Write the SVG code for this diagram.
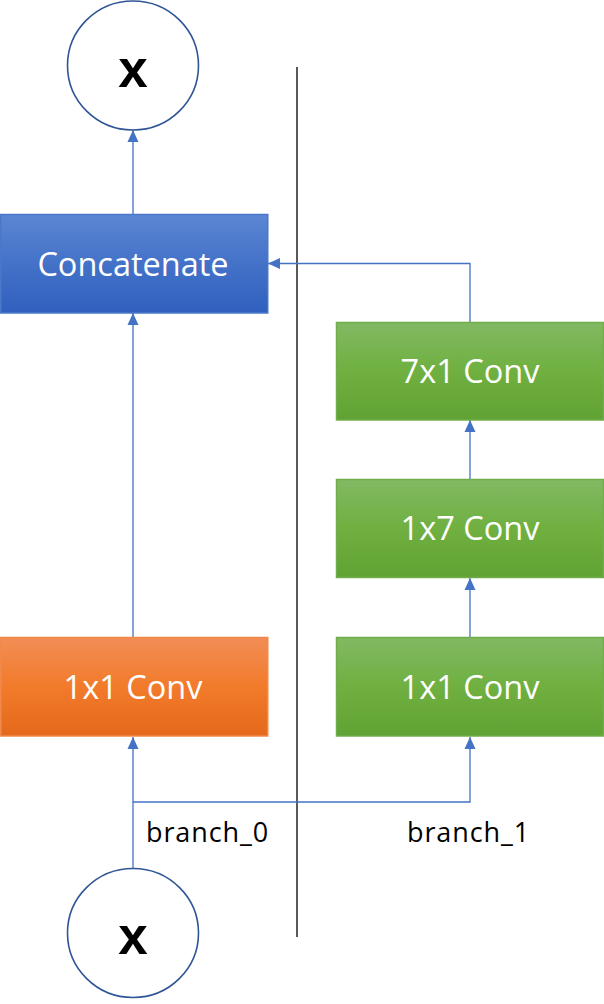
<svg xmlns="http://www.w3.org/2000/svg" width="604" height="1004" viewBox="0 0 604 1004">
<defs>
<linearGradient id="gBlue" x1="0" y1="0" x2="0" y2="1">
<stop offset="0" stop-color="#5b86d3"/>
<stop offset="0.5" stop-color="#4472c8"/>
<stop offset="1" stop-color="#2f60be"/>
</linearGradient>
<linearGradient id="gGreen" x1="0" y1="0" x2="0" y2="1">
<stop offset="0" stop-color="#81b963"/>
<stop offset="0.5" stop-color="#6fb040"/>
<stop offset="1" stop-color="#61a234"/>
</linearGradient>
<linearGradient id="gOrange" x1="0" y1="0" x2="0" y2="1">
<stop offset="0" stop-color="#f28d56"/>
<stop offset="0.5" stop-color="#f27b2b"/>
<stop offset="1" stop-color="#e5691b"/>
</linearGradient>
<marker id="arr" markerUnits="userSpaceOnUse" markerWidth="12" markerHeight="12" viewBox="0 0 12 12" refX="12" refY="6" orient="auto">
<path d="M0,0.5 L12,6 L0,11.5 Z" fill="#4472c4"/>
</marker>
<style>
.conn{fill:none;stroke:#4472c4;stroke-width:1.3}
.circ{fill:#ffffff;stroke:#2f5597;stroke-width:1.6}
.bx{font-family:"Open Sans","Noto Sans",sans-serif;font-size:32.5px;fill:#ffffff;text-anchor:middle}
.xx{font-family:"Liberation Sans",Arial,sans-serif;font-weight:bold;font-size:53px;fill:#000000;text-anchor:middle}
.lbl{font-family:"Open Sans","Noto Sans",sans-serif;font-size:27px;letter-spacing:0.9px;fill:#000000}
</style>
</defs>
<rect width="604" height="1004" fill="#ffffff"/>
<line x1="297" y1="67" x2="297" y2="937" stroke="#000000" stroke-width="1.3"/>
<g id="connectors">
<path class="conn" d="M133,214 V130" marker-end="url(#arr)"/>
<path class="conn" d="M133,637 V313" marker-end="url(#arr)"/>
<path class="conn" d="M133,868 V737" marker-end="url(#arr)"/>
<path class="conn" d="M133,802 H470 V737" marker-end="url(#arr)"/>
<path class="conn" d="M470,637 V578" marker-end="url(#arr)"/>
<path class="conn" d="M470,479 V420" marker-end="url(#arr)"/>
<path class="conn" d="M470,322 V263.5 H268" marker-end="url(#arr)"/>
</g>
<g id="out">
<ellipse class="circ" cx="133" cy="65.5" rx="65.5" ry="64.5"/>
<text class="xx" x="133" y="86.5">x</text>
</g>
<g id="concat">
<rect x="0.75" y="214.5" width="267" height="98.5" fill="url(#gBlue)" stroke="#4a78c9" stroke-width="1.5"/>
<text class="bx" x="133" y="276">Concatenate</text>
</g>
<g id="conv7x1">
<rect x="336.5" y="322.5" width="267" height="97.5" fill="url(#gGreen)" stroke="#72ad4b" stroke-width="1.5"/>
<text class="bx" x="470" y="383">7x1 Conv</text>
</g>
<g id="conv1x7">
<rect x="336.5" y="479.5" width="267" height="98" fill="url(#gGreen)" stroke="#72ad4b" stroke-width="1.5"/>
<text class="bx" x="470" y="540">1x7 Conv</text>
</g>
<g id="conv1x1_b1">
<rect x="336.5" y="637.5" width="267" height="98.5" fill="url(#gGreen)" stroke="#72ad4b" stroke-width="1.5"/>
<text class="bx" x="470" y="699">1x1 Conv</text>
</g>
<g id="conv1x1_b0">
<rect x="0.75" y="637.5" width="267" height="98.5" fill="url(#gOrange)" stroke="#f0894a" stroke-width="1.5"/>
<text class="bx" x="133" y="699">1x1 Conv</text>
</g>
<g id="labels">
<text class="lbl" x="146" y="842">branch_0</text>
<text class="lbl" x="407" y="842">branch_1</text>
</g>
<g id="in">
<ellipse class="circ" cx="133" cy="933" rx="65.5" ry="64.5"/>
<text class="xx" x="133" y="953.5">x</text>
</g>
</svg>
